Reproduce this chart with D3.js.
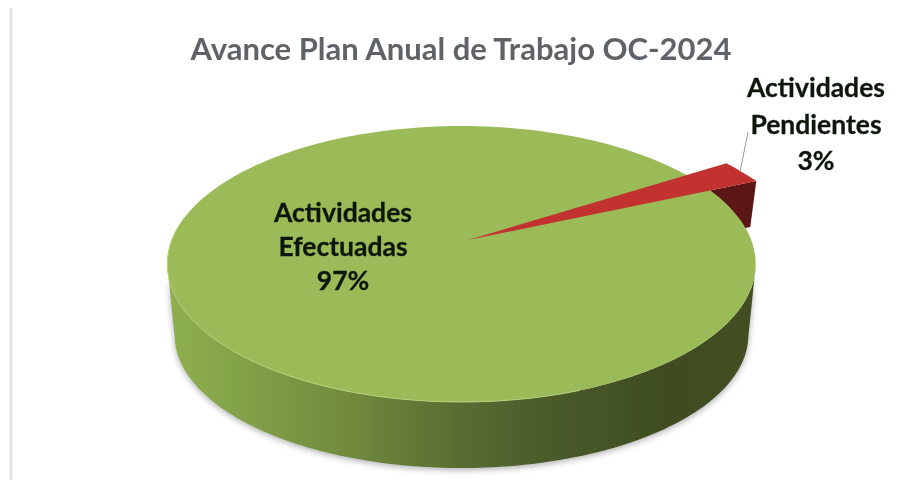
<!DOCTYPE html>
<html>
<head>
<meta charset="utf-8">
<script src="https://cdn.jsdelivr.net/npm/d3@7"></script>
<style>
html, body { margin: 0; padding: 0; background: #fff; }
svg { display: block; }
text { font-family: Lato, "Open Sans", sans-serif; font-weight: 700; text-anchor: middle; }
</style>
</head>
<body>
<div id="chart"></div>
<script>
// values
const chartTitle = "Avance Plan Anual de Trabajo OC-2024";
const categories = ["Actividades Pendientes", "Actividades Efectuadas"];
const values = [3, 97];
const labelLines = [["Actividades", "Pendientes", "3%"], ["Actividades", "Efectuadas", "97%"]];

const width = 901, height = 480;

let svg = d3.select("#chart").append("svg")
            .attr("width", width)
            .attr("height", height);

let defs = svg.append("defs");

// the reference is a soft screenshot, so everything gets a small blur
defs.append("filter").attr("id", "soft")
    .append("feGaussianBlur").attr("stdDeviation", 0.7);

defs.append("filter").attr("id", "shadow")
    .attr("x", "-10%").attr("y", "-10%").attr("width", "120%").attr("height", "120%")
    .append("feGaussianBlur").attr("stdDeviation", 3);

// side wall shading, light on the left and dark to the right
let sideGrad = defs.append("linearGradient").attr("id", "side")
                   .attr("x1", 0).attr("x2", 1).attr("y1", 0).attr("y2", 0);
[[0, "#8fb050"], [0.1, "#85a549"], [0.3, "#728b3e"], [0.5, "#586c31"],
 [0.65, "#4a5b2a"], [0.85, "#3f4c22"], [1, "#434f22"]]
  .forEach(d => sideGrad.append("stop").attr("offset", d[0]).attr("stop-color", d[1]));

// tilted disc, a circle seen in perspective
const cx = 461.5, cy = 240, tilt = 0.174;
const sx = d3.scaleLinear().domain([0, 1]).range([0, 289.7]);
const sy = d3.scaleLinear().domain([0, 1]).range([0, 133.8]);

function project(angle, r, ox, oy) {
  let u = (ox || 0) + r * Math.sin(angle);
  let v = (oy || 0) - r * Math.cos(angle);
  let w = 1 - tilt * v;
  return [cx + sx(u / w), cy + sy(v / w)];
}

// the base of the pie is a little narrower than the top face
const discMidY = 264, baseMidY = 335, baseScaleX = 0.975, baseScaleY = 0.964;
function toBase(p) {
  return [cx + (p[0] - cx) * baseScaleX, baseMidY + (p[1] - discMidY) * baseScaleY];
}

const line = d3.line();
const deg = Math.PI / 180;

// red slice first, so the angle sits where the picture has it
let pie = d3.pie().sort(null).startAngle(56.35 * deg).endAngle(416.35 * deg);
let arcs = pie(values);
let red = arcs[0];

// silhouette of the side wall: lower half of the disc joined to lower half of the base
let disc = d3.range(0, 361, 2).map(a => project(a * deg, 1));
let rim = d3.range(60, 301, 1).map(a => project(a * deg, 1)).filter(p => p[1] >= discMidY);
let wall = line(rim.concat(rim.map(toBase).reverse())) + "Z";

// soft shadow under the base
svg.append("path")
    .attr("d", wall)
    .attr("transform", "translate(0,2)")
    .attr("fill", "#777")
    .attr("opacity", 0.6)
    .attr("filter", "url(#shadow)");

const page = svg.append("g").attr("filter", "url(#soft)");

// page edge line on the left
page.append("line")
    .attr("x1", 11).attr("x2", 11).attr("y1", 8).attr("y2", height)
    .attr("stroke", "#e4e4e4").attr("stroke-width", 3);

// title
page.append("text")
    .attr("x", 461).attr("y", 60)
    .attr("font-size", 31)
    .attr("fill", "#5f6468")
    .text(chartTitle);

// red slice: pulled out of the disc, slightly narrower and longer than the disc
const redMid = (red.startAngle + red.endAngle) / 2;
const redHalf = (red.endAngle - red.startAngle) / 2 * 0.82;
const redR = 1.18, redOx = 0.0225;
let redOuter = d3.range(0, 13).map(i =>
  project(redMid - redHalf + (2 * redHalf) * i / 12, redR, redOx, 0));
let apex = project(0, 0, redOx, 0);
let lowCorner = redOuter[redOuter.length - 1];

// dark wall behind the disc
page.append("path")
    .attr("d", line([apex, lowCorner, [lowCorner[0] - 6, lowCorner[1] + 46], [apex[0], apex[1] + 46]]) + "Z")
    .attr("fill", "#5c1414");

// green side wall
page.append("path")
    .attr("d", wall)
    .attr("fill", "url(#side)");

// green top face
page.append("path")
    .attr("d", line(disc) + "Z")
    .attr("fill", "#9bbb59");

// light rim along the front edge, left side only
page.append("path")
    .attr("d", line(d3.range(160, 281, 2).map(a => project(a * deg, 1))))
    .attr("fill", "none")
    .attr("stroke", "#b4cf78")
    .attr("stroke-width", 1);

// red top face
page.append("path")
    .attr("d", line([apex].concat(redOuter)) + "Z")
    .attr("fill", "#c2302f");

// leader line for the small slice
page.append("line")
    .attr("x1", 748).attr("y1", 132).attr("x2", 740).attr("y2", 172)
    .attr("stroke", "#9a9a9a").attr("stroke-width", 1);

// slice labels
const labelX = [816, 343];
const labelY = [97, 222];
const labelGap = [36.5, 34];
labelLines.forEach((lines, i) => {
  let t = page.append("text")
              .attr("fill", "#10180c")
              .attr("stroke", "#10180c")
              .attr("stroke-width", 0.3)
              .attr("font-size", 26.5);
  lines.forEach((s, j) => {
    t.append("tspan")
     .attr("x", labelX[i])
     .attr("y", labelY[i] + j * labelGap[i])
     .text(s);
  });
});
</script>
</body>
</html>
